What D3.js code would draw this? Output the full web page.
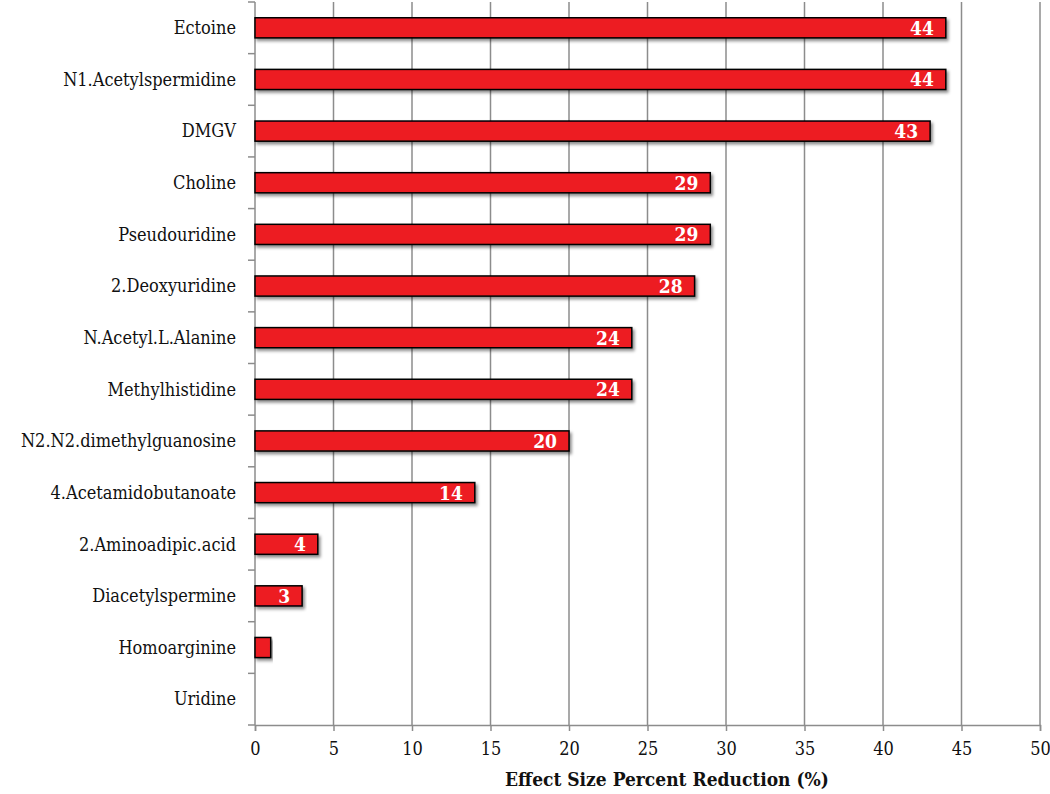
<!DOCTYPE html>
<html><head><meta charset="utf-8">
<script src="https://cdn.jsdelivr.net/npm/d3@7"></script>
<style>body{margin:0;background:#fff;} svg{display:block;}</style>
</head><body>
<svg id="c" width="1050" height="794"></svg>
<script>
const categories = ["Ectoine","N1.Acetylspermidine","DMGV","Choline","Pseudouridine","2.Deoxyuridine","N.Acetyl.L.Alanine","Methylhistidine","N2.N2.dimethylguanosine","4.Acetamidobutanoate","2.Aminoadipic.acid","Diacetylspermine","Homoarginine","Uridine"];
const values = [44,44,43,29,29,28,24,24,20,14,4,3,1,0];
const xTicks = [0,5,10,15,20,25,30,35,40,45,50];
const xTitle = "Effect Size Percent Reduction (%)";

const svg = d3.select("#c");
const L = 255, R = 1040, T = 2, B = 725;
const x = d3.scaleLinear().domain([0,50]).range([L,R]);
const y = d3.scaleBand().domain(categories).range([T,B]).paddingInner(0.61).paddingOuter(0.305);
const yb = d3.scaleLinear().domain([0,categories.length]).range([T,B]);
const serif = "'DejaVu Serif Condensed', 'DejaVu Serif', serif";

const defs = svg.append("defs");
const f = defs.append("filter").attr("id","sh").attr("x","-5%").attr("y","-30%").attr("width","115%").attr("height","190%");
f.append("feDropShadow").attr("dx",2).attr("dy",2.5).attr("stdDeviation",1.5).attr("flood-color","#000").attr("flood-opacity",0.45);

// grid
svg.append("g").selectAll("line").data(xTicks.slice(1)).join("line")
  .attr("x1",d=>x(d)).attr("x2",d=>x(d)).attr("y1",T).attr("y2",B)
  .attr("stroke","#8c8c8c").attr("stroke-width",1.5);

// x axis
const xa = svg.append("g").attr("transform",`translate(0,${B})`)
  .call(d3.axisBottom(x).tickValues(xTicks).tickSize(6).tickPadding(11));
xa.select(".domain").attr("stroke","#8c8c8c").attr("stroke-width",1.5);
xa.selectAll(".tick line").attr("stroke","#8c8c8c").attr("stroke-width",1.5);
xa.selectAll("text").attr("font-family",serif).attr("font-size",18).attr("fill","#111");

// y axis line + ticks at band boundaries
svg.append("line").attr("x1",L).attr("x2",L).attr("y1",T).attr("y2",B).attr("stroke","#8c8c8c").attr("stroke-width",1.5);
svg.append("g").selectAll("line").data(d3.range(categories.length+1)).join("line")
  .attr("x1",L-7).attr("x2",L).attr("y1",d=>yb(d)).attr("y2",d=>yb(d))
  .attr("stroke","#8c8c8c").attr("stroke-width",1.5);

// y labels
svg.append("g").selectAll("text").data(categories).join("text")
  .attr("x",L-19).attr("y",d=>y(d)+y.bandwidth()/2).attr("dy","0.35em")
  .attr("text-anchor","end").attr("font-family",serif).attr("font-size",18).attr("fill","#111")
  .text(d=>d);

// bars
const data = categories.map((c,i)=>({c,v:values[i]}));
svg.append("g").selectAll("rect").data(data.filter(d=>d.v>0)).join("rect")
  .attr("x",x(0)).attr("y",d=>y(d.c)).attr("width",d=>x(d.v)-x(0)).attr("height",y.bandwidth())
  .attr("fill","#ED1C24").attr("stroke","#000").attr("stroke-width",1.5).attr("filter","url(#sh)");

// value labels
svg.append("g").selectAll("text").data(data.filter(d=>d.v>=2)).join("text")
  .attr("x",d=>x(d.v)-12).attr("y",d=>y(d.c)+y.bandwidth()/2).attr("dy","0.37em")
  .attr("text-anchor","end").attr("font-family",serif).attr("font-weight","bold").attr("font-size",19).attr("fill","#fff")
  .text(d=>d.v);

// x title
svg.append("text").attr("x",667).attr("y",786).attr("text-anchor","middle")
  .attr("font-family",serif).attr("font-weight","bold").attr("font-size",19).attr("fill","#111").text(xTitle);
</script>
</body></html>
